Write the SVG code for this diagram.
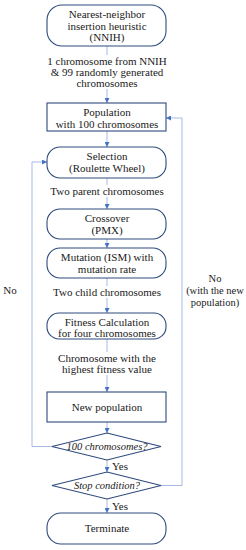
<svg xmlns="http://www.w3.org/2000/svg" width="246" height="550" viewBox="0 0 246 550">
<style>
.n{fill:#fff;stroke:#2E4A7D;stroke-width:1.1}
.c{fill:none;stroke:#8FAADC;stroke-width:0.8}
text{font-family:"Liberation Serif","Times New Roman",serif;font-size:11px;fill:#1a1a1a;text-anchor:middle}
.i{font-style:italic;font-size:10.5px}
.s{font-size:10.5px}
</style>
<defs>
<marker id="a" viewBox="0 0 6 6" refX="6" refY="3" markerWidth="5" markerHeight="5" orient="auto" markerUnits="userSpaceOnUse">
<path d="M0,0 L6,3 L0,6 z" fill="#4472C4"/>
</marker>
</defs>
<rect width="246" height="550" fill="#fff"/>
<g id="connectors">
<path class="c" d="M107,46 V103" marker-end="url(#a)"/>
<path class="c" d="M107,131 V147" marker-end="url(#a)"/>
<path class="c" d="M107,178 V209" marker-end="url(#a)"/>
<path class="c" d="M107,239 V248" marker-end="url(#a)"/>
<path class="c" d="M107,278 V313" marker-end="url(#a)"/>
<path class="c" d="M107,339 V392" marker-end="url(#a)"/>
<path class="c" d="M107,422 V433" marker-end="url(#a)"/>
<path class="c" d="M107,460 V472" marker-end="url(#a)"/>
<path class="c" d="M107,499 V513" marker-end="url(#a)"/>
<path class="c" d="M52,446.5 H32 V162 H47" marker-end="url(#a)"/>
<path class="c" d="M161,485.5 H182 V118 H166" marker-end="url(#a)"/>
</g>
<g id="labels">
<rect x="45" y="55" width="124" height="34" fill="#fff"/>
<rect x="45" y="185" width="124" height="12" fill="#fff"/>
<rect x="45" y="286" width="124" height="12" fill="#fff"/>
<rect x="45" y="352" width="124" height="23" fill="#fff"/>
<text x="107" y="65">1 chromosome from NNIH</text>
<text x="107" y="76">&amp; 99 randomly generated</text>
<text x="107" y="87">chromosomes</text>
<text x="107" y="195">Two parent chromosomes</text>
<text x="107" y="296">Two child chromosomes</text>
<text x="107" y="362">Chromosome with the</text>
<text x="107" y="373">highest fitness value</text>
<text x="10" y="294">No</text>
<text class="s" x="215" y="282">No</text>
<text class="s" x="215" y="294">(with the new</text>
<text class="s" x="215" y="306">population)</text>
<text x="120" y="470">Yes</text>
<text x="120" y="510">Yes</text>
</g>
<g id="nnih">
<rect class="n" x="47" y="5" width="119" height="41" rx="15"/>
<text x="107" y="18">Nearest-neighbor</text>
<text x="107" y="29.5">insertion heuristic</text>
<text x="107" y="41">(NNIH)</text>
</g>
<g id="population">
<rect class="n" x="47" y="103" width="119" height="28"/>
<text x="107" y="116">Population</text>
<text x="107" y="128">with 100 chromosomes</text>
</g>
<g id="selection">
<rect class="n" x="47" y="147" width="119" height="31" rx="13"/>
<text x="107" y="160">Selection</text>
<text x="107" y="172">(Roulette Wheel)</text>
</g>
<g id="crossover">
<rect class="n" x="47" y="209" width="119" height="30" rx="13"/>
<text x="107" y="222">Crossover</text>
<text x="107" y="234">(PMX)</text>
</g>
<g id="mutation">
<rect class="n" x="47" y="248" width="119" height="30" rx="13"/>
<text x="107" y="260.5">Mutation (ISM) with</text>
<text x="107" y="272.5">mutation rate</text>
</g>
<g id="fitness">
<rect class="n" x="47" y="313" width="119" height="26" rx="12"/>
<text x="107" y="326">Fitness Calculation</text>
<text x="107" y="337">for four chromosomes</text>
</g>
<g id="newpop">
<rect class="n" x="47" y="392" width="119" height="30"/>
<text x="107" y="410.5">New population</text>
</g>
<g id="dec100">
<polygon class="n" points="107,433 161,446.5 107,460 52,446.5"/>
<text class="i" x="107" y="450">100 chromosomes?</text>
</g>
<g id="stop">
<polygon class="n" points="107,472 161,485.5 107,499 52,485.5"/>
<text class="i" x="107" y="489">Stop condition?</text>
</g>
<g id="terminate">
<rect class="n" x="47" y="513" width="119" height="31" rx="14"/>
<text x="107" y="532">Terminate</text>
</g>
</svg>
